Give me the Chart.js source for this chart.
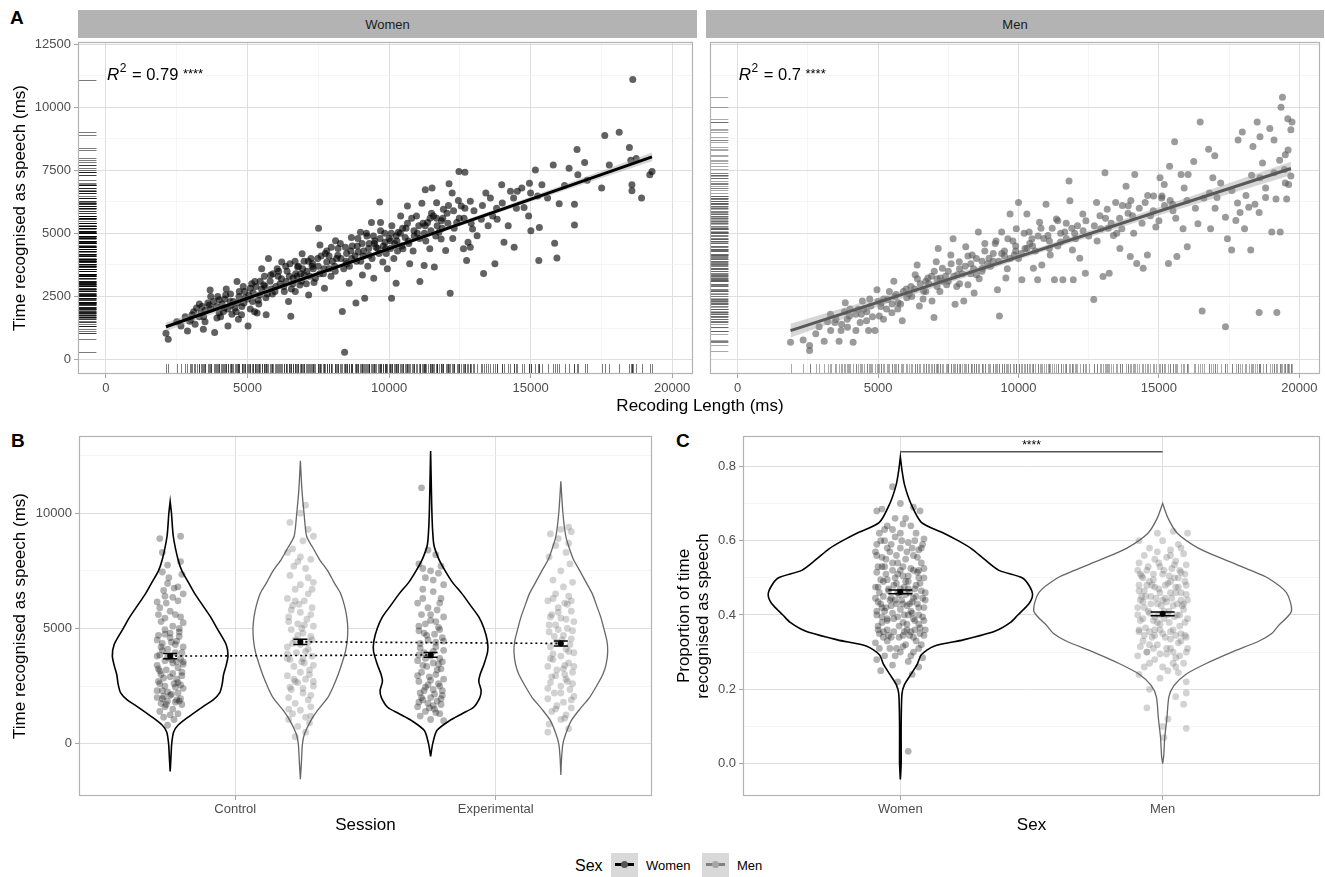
<!DOCTYPE html>
<html><head><meta charset="utf-8">
<script src="https://cdn.jsdelivr.net/npm/chart.js@4.4.1/dist/chart.umd.min.js"></script>
<style>
html,body{margin:0;padding:0;background:#fff;}
body{width:1325px;height:877px;position:relative;overflow:hidden;font-family:'Liberation Sans',Arial,sans-serif;}
.wrap{position:absolute;}
.strip{position:absolute;background:#b3b3b3;color:#1a1a1a;font-size:13px;display:flex;align-items:center;justify-content:center;}
.plabel{position:absolute;font-weight:bold;font-size:19px;color:#000;line-height:20px;}
.txt{position:absolute;color:#000;white-space:nowrap;}
.key{position:absolute;width:27px;height:24px;background:#d9d9d9;}
.kline{position:absolute;left:4px;width:19px;top:10px;height:3px;}
.kdot{position:absolute;left:10px;top:8px;width:7px;height:7px;border-radius:50%;}
</style></head><body>

<div class="plabel" style="left:10px;top:8px;">A</div>
<div class="plabel" style="left:11px;top:431px;">B</div>
<div class="plabel" style="left:676px;top:431px;">C</div>

<div class="strip" id="stripW" style="left:78px;top:10px;width:619px;height:28px;"></div>
<div class="strip" id="stripM" style="left:706px;top:10px;width:618px;height:28px;"></div>

<div class="wrap" style="left:0;top:38px;"><canvas id="cW" width="697" height="366"></canvas></div>
<div class="wrap" style="left:706px;top:38px;"><canvas id="cM" width="618" height="366"></canvas></div>
<div class="txt" id="xTitleA" style="left:500px;width:400px;text-align:center;top:396px;font-size:17px;line-height:20px;"></div>

<div class="wrap" style="left:0;top:432px;"><canvas id="cB" width="656" height="408"></canvas></div>
<div class="wrap" style="left:670px;top:432px;"><canvas id="cC" width="654" height="408"></canvas></div>

<div id="legend"></div>

<script>
// ---------------- DATA ----------------
const facetLabels = ['Women', 'Men'];
const r2Labels = ['0.79', '0.7'];
const r2Stars = '****';
const r2Pos = [0, 11300];

// Panel A: [recording length (ms), time recognised as speech (ms)]
const womenPoints = [
[2120,1040],[2200,810],[2650,1330],[2880,1130],[2960,1520],[3040,1780],[3200,2040],[3360,1850],[3440,1200],[3600,2240],[3680,2760],[3840,1070],[3920,1650],[4000,2370],[4150,1910],[4230,2560],[4310,1330],[4390,2300],[4550,2040],[4630,3090],[4710,2700],[4790,1780],[4870,2240],[5020,1330],[5100,2830],[5180,2300],[5260,3090],[5340,1850],[5420,2560],[5500,3600],[5580,2960],[5660,1780],[5740,4000],[5820,3350],[5970,2700],[6050,3600],[6210,3870],[6370,3090],[6450,2300],[6530,1720],[6610,3220],[6690,2700],[6770,3670],[6850,2960],[6930,4190],[7000,3350],[7160,2560],[7240,4000],[7320,3600],[7400,3220],[7510,5200],[7560,4540],[7720,2830],[7800,3870],[7880,3600],[7960,4450],[8110,4710],[8190,4130],[8350,1910],[8430,290],[8460,4450],[8510,3800],[8590,3020],[8670,4840],[8830,2240],[8910,4260],[8990,5040],[9060,3350],[9140,2430],[9220,4900],[9300,4130],[9380,5430],[9460,3220],[9540,4450],[9670,6240],[9700,5430],[9780,3870],[9860,4650],[9940,3600],[10050,4710],[10090,2430],[10170,4000],[10250,3020],[10330,5040],[10410,5690],[10490,4390],[10570,4840],[10650,6080],[10730,3800],[10890,4900],[10970,5690],[11090,3090],[11160,6190],[11240,3730],[11280,6730],[11360,5430],[11440,4390],[11520,6800],[11570,5690],[11600,3670],[11680,6210],[11760,5040],[11840,4780],[11920,5960],[12000,4320],[12120,6970],[12160,2630],[12230,6600],[12390,5430],[12470,7450],[12550,6080],[12630,4390],[12680,7420],[12740,3930],[12790,4650],[12870,6270],[12870,4450],[12950,5170],[13110,4910],[13260,5560],[13340,3410],[13420,6600],[13580,6400],[13660,5690],[13740,3800],[13820,5560],[13980,6930],[14060,4650],[14210,5300],[14290,6670],[14420,4450],[14530,6670],[14690,6800],[14770,6020],[14930,5690],[14960,6990],[15010,5100],[15170,7510],[15250,6480],[15290,3930],[15310,5230],[15400,6930],[15800,7710],[15850,4610],[15930,4020],[16010,6170],[16360,7580],[16550,6150],[16550,5330],[16640,8320],[16670,7320],[16910,7810],[17510,6800],[17620,8880],[17780,7710],[18130,9010],[18490,8400],[18540,7900],[18580,6930],[18580,6690],[18610,11090],[18730,7970],[18920,6400],[19210,7320],[19290,7450],
[3000,1600],[3100,1900],[3300,1700],[3400,2100],[3500,1950],[3700,2000],[3800,2300],[3900,2100],[4000,1850],[4100,2200],[4200,2400],[4300,2000],[4400,2600],[4500,2300],[4600,1900],[4700,2500],[4800,2100],[4900,2700],[5000,2400],[5100,2000],[5200,2650],[5300,2900],[5400,2200],[5500,2800],[5600,3300],[5700,2600],[5800,3100],[5900,3400],[6000,2900],[6100,3500],[6200,3200],[6300,2700],[6400,3500],[6500,3800],[6600,3000],[6700,3400],[6800,3700],[6900,3100],[7000,3900],[7100,3500],[7200,3300],[7300,3800],[7500,3700],[7600,4100],[7700,3600],[7800,4300],[8000,3900],[8100,3500],[8200,4400],[8300,4000],[8500,4200],[8600,3700],[8700,4500],[8800,4100],[8900,4800],[9000,3900],[9100,4300],[9200,5000],[9300,4600],[9400,4000],[9500,4700],[9600,4400],[9700,5100],[9800,4500],[9900,4200],[10000,4800],[10100,5300],[10200,4600],[10300,4300],[10400,5000],[10600,5200],[10700,4600],[10800,5600],[11000,5000],[11200,5400],[11300,4700],[11500,5800],[11700,5300],[11900,5600],[12100,6100],[12300,5200],
[2500,1500],[2800,1700],[3300,2200],[3500,1500],[3700,2500],[4050,1700],[4250,2800],[4450,1800],[4650,2250],[4850,2900],[5050,2550],[5250,1900],[5450,3100],[5650,2450],[5850,2800],[6150,3000],[6350,3700],[6550,2800],[6750,3300],[6950,3600],[7150,3900],[7350,3050],[7550,3400],[7750,4200],[7950,3300],[8150,4000],[8400,3600],[8650,4300],[8850,3900],[9050,4600],[9250,3700],[9450,4900],[9650,4200],[9850,5000],[10050,4400],[10250,4900],[10450,4500],[10650,5400],[10850,4300],[11050,5300],[11250,5000],[11450,5600],[11650,4900],[11850,5500],[12050,5800],[12250,4800],[12450,6300],[12650,5600],[13000,5900],[13500,5300],[14000,6200],[14500,6000],[15000,6600],[15600,6400],[16200,6900],[17000,7100],
[3150,1400],[3450,1700],[3650,2150],[3950,2500],[4180,2050],[4420,2150],[4680,1600],[4920,2450],[5150,3000],[5380,2350],[5620,2900],[5880,2600],[6080,3300],[6280,2900],[6480,3300],[6680,3900],[6880,3400],[7080,3000],[7280,3700],[7480,4000],[7680,3400],[7880,4100],[8080,3700],[8280,4600],[8480,3900],[8680,4000],[8880,4500],[9080,4100],[9280,4400],[9480,4600],[9680,4800],[9880,4400],[10080,5000],[10280,4700],[10480,5200],[10680,4700],[10880,5100],[11080,4800],[11280,5300],[11480,5100],[11680,5600],[11880,5200],[12080,5400],[12280,5900],[12480,5600],[12680,6000],[12900,5400],[13300,6100],[13800,6000],[14400,6400]
];
const menPoints = [
[1880,690],[2330,780],[2560,560],[2560,360],[2780,1020],[3080,730],[3310,1150],[3460,1470],[3610,730],[3680,1150],[3830,2250],[3910,1280],[3980,1730],[4110,690],[4210,1150],[4290,1990],[4360,1470],[4440,2320],[4590,1540],[4660,1150],[4740,2120],[4890,1150],[4960,2770],[5040,1730],[5110,2250],[5190,1600],[5340,2380],[5490,1860],[5560,3100],[5640,2580],[5710,2250],[5860,1540],[6020,2450],[6170,2900],[6320,3360],[6390,3750],[6470,2120],[6620,2710],[6770,3230],[6920,2320],[6990,1670],[7070,3880],[7140,4400],[7220,3230],[7290,3620],[7440,2970],[7590,4140],[7670,4790],[7740,2190],[7820,3360],[7890,3880],[8050,2320],[8120,4470],[8200,2970],[8350,4140],[8420,2640],[8500,3360],[8570,5050],[8720,3620],[8800,4600],[8950,4010],[9170,4600],[9250,2770],[9320,1730],[9400,5050],[9550,3230],[9620,4790],[9700,5770],[9850,4140],[9920,5180],[10000,6220],[10120,3160],[10230,4400],[10300,5770],[10380,5050],[10480,4790],[10530,3620],[10680,3160],[10750,5440],[10830,3750],[10980,6150],[11050,4920],[11130,4140],[11280,3160],[11350,5570],[11500,4660],[11580,3160],[11650,5050],[11800,7070],[11830,6290],[11920,4340],[11950,3160],[12030,4790],[12180,4010],[12290,5770],[12380,3420],[12680,2380],[12780,6220],[12930,5180],[13010,3290],[13080,7400],[13160,5960],[13230,3420],[13380,4920],[13460,6220],[13610,4400],[13680,5180],[13830,6870],[13910,6090],[13980,4080],[14060,5700],[14140,7330],[14210,3810],[14440,3620],[14510,6220],[14590,4140],[14810,6480],[14890,5250],[15040,7200],[15110,6480],[15190,6940],[15340,3810],[15380,7660],[15490,6150],[15560,8630],[15640,4080],[15790,7330],[15860,5180],[16010,4470],[16040,7330],[16240,7850],[16390,5380],[16470,9410],[16540,1930],[16770,8330],[16840,5180],[16920,7200],[16990,8070],[17070,6420],[17370,5640],[17370,1300],[17440,4790],[17590,4340],[17740,5510],[17820,8700],[17890,5830],[17970,9020],[18050,5180],[18200,6030],[18270,4340],[18350,8440],[18420,6150],[18500,9410],[18570,5830],[18570,1870],[18600,8830],[18690,7790],[18800,6420],[18950,9150],[19020,5050],[19100,8700],[19170,6360],[19200,1870],[19320,5050],[19350,10000],[19400,10390],[19470,7530],[19500,8110],[19550,6360],[19590,9540],[19620,6940],[19700,9100],[19700,7270],[19740,9410],
[3500,1600],[3800,1900],[4200,1800],[4500,2000],[4800,1700],[5000,2300],[5300,2000],[5600,2500],[5800,2200],[6000,2800],[6200,2500],[6500,3000],[6700,2700],[6900,3300],[7100,2900],[7300,3100],[7500,3500],[7700,3300],[7900,3000],[8100,3700],[8300,3400],[8500,4000],[8700,3500],[8900,3800],[9100,4200],[9300,3900],[9500,4300],[9700,4000],[9900,4500],[10100,4200],[10400,4600],[10600,4300],[10900,4800],[11200,5200],[11400,4500],[11700,5400],[12000,5000],[12400,5500],[12800,4700],[13200,5200],[13600,5600],[14000,6300],[14400,5400],[14800,5900],[15200,6100],[15600,5600],
[2900,1300],[3200,1500],[3700,1400],[4000,2000],[4400,1800],[4700,2400],[5100,2100],[5400,2700],[5700,2000],[6100,2600],[6400,3200],[6600,2400],[6800,3000],[7000,3500],[7200,2700],[7400,3300],[7600,3800],[7800,2900],[8000,3400],[8200,4100],[8400,3600],[8600,3200],[8800,4300],[9000,3700],[9200,4700],[9400,4200],[9600,3600],[9800,4700],[10000,4000],[10200,5000],[10500,4500],[10800,5200],[11100,4400],[11400,5500],[11700,4800],[12100,5300],[12500,4900],[12900,5700],[13300,5400],[13700,6100],[14100,5000],[14600,6500],[15000,5500],[15400,6300],[15900,6800],[16300,6000],[16800,6600],[17200,7000],[17800,6200],[18300,7300],[18800,6800],[19300,7900],[19600,8300],
[3300,1800],[3900,1600],[4600,1900],[5200,2400],[5500,2200],[5900,2700],[6300,2800],[6700,3100],[7100,3200],[7500,3100],[7900,3600],[8300,3800],[8700,3900],[9100,3900],[9500,4100],[9900,4300],[10300,4400],[10700,4900],[11100,4700],[11500,5000],[11900,5200],[12300,5100],[12700,5300],[13100,5600],[13500,5000],[13900,5800],[14300,6000],[14700,5700],[15100,6400],[15500,5900],[16000,6300],[16600,6400],[17000,6000],[17600,6700],[18100,6500],[18600,7200],[19100,7400],[19500,7000]
];
// regression fit lines and confidence bands
const womenFitX = [2120, 19290];
const womenFitY = [1300, 8030];
const menFitX = [1880, 19700];
const menFitY = [1150, 7570];
const womenBandX = [2120, 6000, 10700, 15000, 19290];
const womenBandLo = [1130, 2720, 4590, 6250, 7860];
const womenBandHi = [1470, 2920, 4730, 6450, 8200];
const menBandX = [1880, 6000, 10800, 15500, 19700];
const menBandLo = [880, 2480, 4250, 5890, 7300];
const menBandHi = [1420, 2790, 4470, 6220, 7840];

// Panel B
const sessions = ['Control', 'Experimental'];
const vbWomenControlY = [-1200,-600,0,500,800,1200,1600,1900,2200,2600,3000,3400,3800,4300,5000,5500,6000,6500,7000,7500,8000,9000,10000,10500];
const vbWomenControlW = [0,0.003,0.006,0.013,0.03,0.075,0.125,0.165,0.19,0.2,0.205,0.215,0.222,0.215,0.18,0.155,0.125,0.095,0.07,0.045,0.03,0.012,0.005,0];
const vbMenControlY = [-1540,-800,0,430,1000,1430,2000,2500,3000,3500,4000,4500,5000,5500,6000,6550,7000,7500,8000,8500,9000,10000,11000,12270];
const vbMenControlW = [0,0.004,0.008,0.016,0.04,0.065,0.105,0.127,0.145,0.16,0.173,0.18,0.182,0.178,0.169,0.153,0.129,0.105,0.073,0.048,0.024,0.014,0.006,0];
const vbWomenExpY = [-550,0,570,1000,1300,1580,2000,2300,2700,3000,3450,4000,4450,5000,5500,6000,6500,7000,7500,8000,8600,9200,10000,11000,12700];
const vbWomenExpW = [0,0.008,0.024,0.073,0.121,0.165,0.189,0.194,0.185,0.19,0.205,0.219,0.218,0.205,0.185,0.153,0.121,0.084,0.056,0.032,0.013,0.008,0.005,0.003,0];
const vbMenExpY = [-1360,-600,0,430,1000,1500,2000,2500,3000,3450,4000,4450,5000,5500,6000,6500,7000,7500,8000,8500,9000,10000,11380];
const vbMenExpW = [0,0.003,0.008,0.019,0.04,0.073,0.11,0.137,0.161,0.174,0.18,0.177,0.165,0.153,0.137,0.121,0.097,0.073,0.048,0.032,0.019,0.008,0];
// jittered points [offset from violin centre, value]
const bWomenControl = [[-0.04,8900],[0.04,9000],[-0.03,8300],[-0.01,7750],[0.04,7900],[-0.03,7450],[0.045,7350],[-0.01,6950],[0.015,6750],[-0.025,6650],[0.05,6500],[-0.05,6150],[-0.015,6100],[0.03,6200],[0.0,5750],[-0.04,5900],[0.02,5600],[-0.035,5300],[0.05,5250],[0.01,5100],[-0.02,4950],[0.035,4850],[-0.045,4700],[0.0,4600],[0.025,4450],[-0.03,4350],[0.05,4200],[-0.01,4100],[0.02,3950],[-0.04,3850],[0.04,3700],[-0.02,3600],[0.01,3500],[-0.05,3400],[0.03,3300],[-0.015,3200],[0.045,3100],[-0.035,3000],[0.0,2900],[0.025,2800],[-0.045,2700],[0.015,2600],[-0.02,2500],[0.05,2400],[-0.03,2300],[0.03,2200],[0.0,2100],[-0.05,2000],[0.04,1950],[-0.01,1850],[0.02,1800],[-0.035,1750],[0.045,1700],[-0.02,1600],[0.01,1500],[-0.04,1400],[0.03,1300],[0.0,1250],[-0.025,1150],[0.015,1050],[-0.01,800],[0.035,4650],[-0.05,4500],[0.02,4300],[-0.03,4050],[0.05,3550],[-0.04,3150],[0.03,2650],[-0.01,2250],[0.04,5500],[-0.02,5450],[0.01,6350],[-0.05,3800],[0.005,3650],[0.045,2950],[-0.025,2050],[0.025,1900],
[-0.045,5600],[0.035,5000],[-0.02,4750],[0.005,4400],[-0.035,4200],[0.045,3950],[-0.01,3750],[0.025,3550],[-0.045,3250],[0.01,3050],[-0.025,2850],[0.04,2550],[-0.05,2300],[0.005,2150],[-0.03,1950],[0.035,1850],[-0.015,1700],[0.02,2450],[-0.04,2600],[0.05,3450],[0.0,4800],[-0.02,6400],[0.03,6800],[-0.005,7200]];
const bMenControl = [[-0.04,9600],[0.0,10000],[0.02,10350],[0.03,9300],[0.05,9000],[-0.03,8450],[0.01,8800],[-0.05,8300],[0.04,8000],[-0.01,7900],[0.02,7600],[-0.04,7300],[0.05,7000],[0.0,6900],[-0.02,6700],[0.03,6500],[-0.05,6300],[0.015,6200],[-0.03,6000],[0.045,5900],[0.0,5700],[-0.045,5500],[0.025,5400],[-0.01,5200],[0.05,5100],[-0.035,4950],[0.01,4800],[0.04,4650],[-0.02,4500],[0.0,4300],[-0.05,4200],[0.03,4100],[-0.015,3950],[0.045,3800],[-0.04,3650],[0.015,3500],[-0.025,3350],[0.035,3200],[0.0,3100],[-0.05,2950],[0.02,2800],[-0.01,2650],[0.05,2500],[-0.035,2350],[0.01,2200],[-0.045,2000],[0.03,1900],[-0.02,1750],[0.04,1600],[0.0,1450],[-0.03,1300],[0.02,1150],[-0.045,1050],[0.035,900],[-0.01,750],[0.02,500],[-0.02,300],[0.045,6700],[-0.035,5800],[0.005,5000],[0.03,4400],[-0.05,3900],[0.05,3400],[-0.02,2700],[0.04,2100],[-0.005,6050],[0.01,3700],
[-0.02,6200],[0.04,5600],[-0.045,5300],[0.015,5150],[-0.01,4700],[0.045,4500],[-0.03,4350],[0.02,4000],[-0.05,3700],[0.005,3550],[0.035,3000],[-0.025,2800],[0.05,2700],[-0.04,2450],[0.01,2400],[0.03,7200],[-0.025,7700],[0.0,8100],[-0.045,1500],[0.04,1200]];
const bWomenExp = [[-0.035,11100],[-0.01,8400],[0.02,8200],[-0.045,7800],[0.04,7700],[0.0,7500],[0.03,7400],[-0.02,7200],[0.05,6900],[-0.03,6700],[0.01,6600],[0.04,6300],[-0.05,6100],[-0.01,5900],[0.025,5800],[-0.035,5600],[0.05,5500],[0.0,5350],[-0.02,5200],[0.03,5050],[-0.045,4900],[0.015,4750],[0.045,4600],[-0.01,4500],[-0.04,4350],[0.02,4200],[0.05,4050],[-0.025,3950],[0.0,3800],[0.035,3700],[-0.05,3600],[0.01,3500],[-0.015,3350],[0.04,3250],[-0.035,3100],[0.02,3000],[-0.005,2900],[0.05,2800],[-0.045,2700],[0.03,2600],[-0.02,2450],[0.01,2350],[-0.04,2200],[0.045,2100],[0.0,2000],[-0.03,1900],[0.025,1850],[-0.01,1750],[0.04,1700],[-0.05,1600],[0.015,1500],[-0.02,1400],[0.035,1300],[-0.04,1200],[0.0,1050],[0.05,1000],[-0.025,4800],[0.02,4400],[-0.045,3850],[0.03,3450],[-0.01,2550],[0.045,2300],[-0.035,2000],[0.01,1650],[0.0,5600],[0.035,6100],
[-0.03,6300],[0.02,5300],[-0.045,5100],[0.035,4950],[-0.015,4700],[0.05,4450],[-0.04,4150],[0.01,4000],[-0.02,3700],[0.045,3550],[-0.03,3400],[0.025,3200],[-0.05,2950],[0.0,2750],[0.035,2500],[-0.025,2300],[0.015,2150],[-0.045,1800],[0.04,1950],[-0.005,1550],[0.02,1350],[-0.03,7600],[0.01,7100]];
const bMenExp = [[-0.04,9100],[0.0,9300],[0.03,9400],[0.04,9200],[-0.02,8600],[0.02,8300],[-0.045,8100],[0.035,7800],[0.0,7500],[-0.03,7100],[0.045,7000],[0.01,6800],[-0.02,6500],[0.03,6400],[-0.05,6200],[0.015,6100],[-0.01,5900],[0.04,5750],[-0.035,5600],[0.0,5450],[0.05,5300],[-0.02,5150],[0.025,5000],[-0.045,4850],[0.01,4700],[0.04,4550],[-0.015,4400],[-0.04,4200],[0.02,4100],[0.05,3950],[0.0,3800],[-0.03,3650],[0.03,3500],[-0.05,3350],[0.01,3250],[0.045,3100],[-0.02,2950],[0.02,2800],[-0.04,2650],[0.0,2500],[0.035,2350],[-0.025,2200],[0.05,2050],[-0.05,1950],[0.01,1800],[-0.015,1650],[0.04,1550],[-0.035,1400],[0.02,1250],[0.0,1050],[-0.045,850],[0.03,650],[-0.05,500],[0.025,6050],[-0.01,4950],[0.035,4300],[-0.03,3900],[0.015,3000],[-0.04,5500],[0.045,2600],
[-0.03,6300],[0.04,6200],[-0.01,5700],[0.02,5400],[-0.045,5150],[0.045,4900],[-0.025,4650],[0.005,4500],[0.03,4000],[-0.04,3700],[0.015,3400],[-0.015,3200],[0.05,3350],[-0.035,2900],[0.025,2700],[-0.05,2400],[0.0,2200],[0.04,1900],[-0.02,1500],[0.015,1100],[-0.01,8900],[0.03,8700]];
const bMeanWomen = [3800, 3850];
const bMeanMen = [4420, 4350];
const bSEWomen = [110, 105];
const bSEMen = [115, 110];

// Panel C
const cVWomenY = [-0.043,0,0.1,0.187,0.213,0.24,0.267,0.293,0.316,0.333,0.356,0.38,0.40,0.43,0.455,0.48,0.50,0.52,0.55,0.578,0.60,0.622,0.649,0.70,0.75,0.79,0.825];
const cVWomenW = [0,0.003,0.003,0.006,0.016,0.04,0.064,0.08,0.128,0.24,0.36,0.42,0.448,0.49,0.504,0.49,0.464,0.376,0.32,0.272,0.22,0.16,0.08,0.04,0.016,0.006,0];
const cVMenY = [0,0.02,0.07,0.12,0.18,0.21,0.24,0.27,0.30,0.33,0.35,0.37,0.41,0.46,0.50,0.52,0.55,0.58,0.62,0.66,0.70];
const cVMenW = [0,0.004,0.008,0.016,0.024,0.043,0.088,0.168,0.264,0.368,0.416,0.44,0.491,0.472,0.4,0.336,0.232,0.136,0.056,0.021,0];
const cWomenPts = [[-0.09,0.68],[-0.07,0.685],[-0.03,0.745],[0.0,0.70],[0.05,0.69],[0.075,0.68],[0.02,0.66],[-0.05,0.64],[0.01,0.645],[-0.08,0.62],[0.06,0.62],[-0.02,0.61],[0.09,0.605],[-0.06,0.60],[0.03,0.595],[-0.09,0.59],[0.0,0.58],[0.07,0.575],[-0.04,0.57],[0.05,0.56],[-0.07,0.555],[0.02,0.55],[-0.01,0.54],[0.08,0.54],[-0.085,0.53],[0.04,0.525],[-0.03,0.52],[0.065,0.515],[-0.055,0.51],[0.01,0.505],[0.09,0.50],[-0.075,0.495],[0.03,0.49],[-0.015,0.485],[0.06,0.48],[-0.095,0.475],[0.0,0.47],[-0.045,0.465],[0.08,0.465],[0.02,0.455],[-0.065,0.45],[0.05,0.445],[-0.02,0.44],[0.095,0.44],[-0.085,0.435],[0.035,0.43],[-0.035,0.425],[0.07,0.42],[0.0,0.415],[-0.06,0.41],[0.045,0.405],[-0.09,0.40],[0.015,0.40],[0.085,0.395],[-0.025,0.39],[0.055,0.385],[-0.07,0.38],[0.025,0.375],[-0.005,0.37],[0.075,0.365],[-0.05,0.36],[0.04,0.355],[-0.08,0.35],[0.01,0.345],[0.09,0.345],[-0.035,0.34],[0.06,0.33],[-0.095,0.325],[0.02,0.32],[-0.015,0.31],[0.05,0.30],[-0.06,0.29],[0.085,0.285],[-0.09,0.28],[0.03,0.275],[-0.03,0.265],[0.07,0.26],[-0.075,0.25],[0.045,0.24],[-0.01,0.22],[0.03,0.033],[-0.05,0.58],[0.07,0.52],[-0.02,0.50],[0.03,0.47],[-0.08,0.46],[0.06,0.45],[-0.04,0.44],[0.01,0.43],[0.09,0.42],[-0.07,0.42],[0.04,0.41],[-0.01,0.46],[0.02,0.49],[-0.06,0.53],[0.08,0.58],[-0.09,0.56],[0.055,0.60],[-0.03,0.63],[0.0,0.52],[-0.05,0.39],[0.07,0.40],[0.025,0.36],[-0.085,0.37],[0.05,0.34],[-0.04,0.31],[0.08,0.32],[0.0,0.30],[-0.065,0.34],
[-0.095,0.57],[-0.075,0.60],[-0.055,0.55],[-0.035,0.59],[-0.015,0.56],[0.005,0.60],[0.025,0.57],[0.045,0.58],[0.065,0.555],[0.085,0.59],[-0.09,0.515],[-0.07,0.53],[-0.05,0.495],[-0.03,0.54],[-0.01,0.51],[0.01,0.53],[0.03,0.505],[0.05,0.52],[0.07,0.50],[0.09,0.525],[-0.085,0.475],[-0.065,0.49],[-0.045,0.47],[-0.025,0.48],[-0.005,0.455],[0.015,0.475],[0.035,0.46],[0.055,0.47],[0.075,0.485],[0.095,0.46],[-0.095,0.445],[-0.075,0.43],[-0.055,0.42],[-0.035,0.445],[-0.015,0.43],[0.005,0.44],[0.025,0.425],[0.045,0.435],[0.065,0.43],[0.085,0.445],[-0.09,0.41],[-0.07,0.395],[-0.05,0.385],[-0.03,0.405],[-0.01,0.395],[0.01,0.38],[0.03,0.40],[0.05,0.39],[0.07,0.375],[0.09,0.385],[-0.085,0.36],[-0.065,0.355],[-0.045,0.345],[-0.025,0.355],[-0.005,0.34],[0.015,0.355],[0.035,0.345],[0.055,0.36],[0.075,0.35],[0.095,0.36],[-0.08,0.31],[-0.05,0.33],[-0.02,0.29],[0.01,0.315],[0.04,0.29],[0.07,0.31],[-0.06,0.63],[0.0,0.62],[0.04,0.64],[-0.02,0.66]];
const cMenPts = [[-0.02,0.62],[0.04,0.625],[0.095,0.62],[-0.09,0.60],[0.0,0.60],[0.06,0.59],[-0.05,0.58],[0.03,0.575],[0.08,0.565],[-0.07,0.56],[0.015,0.555],[-0.03,0.55],[0.05,0.545],[-0.09,0.54],[0.09,0.535],[-0.01,0.53],[0.035,0.525],[-0.06,0.52],[0.07,0.515],[0.0,0.51],[-0.08,0.505],[0.045,0.50],[-0.035,0.495],[0.085,0.49],[0.02,0.485],[-0.06,0.48],[0.06,0.475],[-0.015,0.47],[-0.09,0.465],[0.03,0.46],[0.09,0.455],[-0.045,0.45],[0.01,0.445],[0.07,0.44],[-0.075,0.435],[-0.02,0.43],[0.04,0.425],[-0.095,0.42],[0.08,0.415],[0.005,0.41],[-0.05,0.405],[0.055,0.40],[-0.03,0.395],[0.095,0.39],[-0.085,0.385],[0.025,0.38],[-0.01,0.375],[0.065,0.37],[-0.065,0.365],[0.04,0.36],[-0.09,0.355],[0.0,0.35],[0.085,0.345],[-0.04,0.34],[0.03,0.335],[-0.075,0.33],[0.06,0.325],[-0.02,0.32],[0.095,0.31],[-0.06,0.30],[0.015,0.295],[-0.095,0.29],[0.05,0.285],[-0.03,0.28],[0.08,0.27],[-0.07,0.26],[0.02,0.25],[-0.09,0.24],[0.06,0.245],[-0.01,0.23],[0.09,0.22],[-0.05,0.20],[0.05,0.18],[0.09,0.19],[-0.06,0.15],[0.02,0.12],[0.08,0.16],[0.0,0.10],[0.005,0.07],[0.09,0.095],[-0.04,0.48],[0.05,0.46],[-0.07,0.42],[0.02,0.40],[-0.02,0.38],[0.07,0.35],[-0.05,0.32],[0.03,0.31],[-0.08,0.45],[0.06,0.50],[0.0,0.44],[-0.03,0.36],[0.04,0.27],[-0.085,0.51],[0.08,0.43],
[-0.095,0.52],[-0.075,0.50],[-0.055,0.53],[-0.035,0.51],[-0.015,0.54],[0.005,0.52],[0.025,0.505],[0.045,0.535],[0.065,0.52],[0.085,0.51],[-0.09,0.48],[-0.07,0.465],[-0.05,0.49],[-0.03,0.475],[-0.01,0.46],[0.01,0.48],[0.03,0.49],[0.05,0.475],[0.07,0.46],[0.09,0.48],[-0.085,0.44],[-0.065,0.45],[-0.045,0.43],[-0.025,0.445],[-0.005,0.425],[0.015,0.435],[0.035,0.445],[0.055,0.43],[0.075,0.425],[0.095,0.44],[-0.095,0.40],[-0.075,0.39],[-0.055,0.41],[-0.035,0.385],[-0.015,0.40],[0.005,0.39],[0.025,0.41],[0.045,0.395],[0.065,0.40],[0.085,0.38],[-0.09,0.36],[-0.07,0.345],[-0.05,0.355],[-0.03,0.345],[-0.01,0.36],[0.01,0.34],[0.03,0.355],[0.05,0.345],[0.07,0.33],[0.09,0.34],[-0.085,0.315],[-0.06,0.30],[-0.035,0.31],[-0.01,0.295],[0.015,0.31],[0.04,0.30],[0.065,0.29],[0.09,0.30],[-0.05,0.27],[0.0,0.26],[0.05,0.26],[-0.02,0.57],[0.03,0.56],[0.07,0.58]];
const cMeans = [0.462, 0.403];
const cSE = [0.005, 0.005];
const cSigY = 0.839;
const cSigLabel = '****';

// tick values
const aXMajor = [0,5000,10000,15000,20000], aXMinor = [2500,7500,12500,17500];
const aYMajor = [0,2500,5000,7500,10000,12500], aYMinor = [1250,3750,6250,8750,11250];
const bYMajor = [0,5000,10000], bYMinor = [2500,7500,12500];
const cYMajor = [0,0.2,0.4,0.6,0.8], cYMinor = [0.1,0.3,0.5,0.7];

// ---------------- STYLE / HELPERS ----------------
const FONT = "'Liberation Sans', Arial, sans-serif";
const DODGE = 0.25;
const WOMEN_COL = '#000000', MEN_COL = '#595959';
const isIn = (v, arr) => arr.some(a => Math.abs(a - v) < 1e-9);

function axisCfg(o) {
  const all = o.major.concat(o.minor || []).sort((a, b) => a - b);
  const maj = c => c.tick && isIn(c.tick.value, o.major);
  return {
    type: 'linear', position: o.position, min: o.min, max: o.max,
    afterBuildTicks: s => { s.ticks = all.map(v => ({value: v})); },
    afterFit: s => {
      if (o.size !== undefined) { if (o.position === 'left') s.width = o.size; else s.height = o.size; }
      s.paddingTop = 0; s.paddingBottom = 0; s.paddingLeft = 0; s.paddingRight = 0;
    },
    border: {display: false},
    grid: {
      color: c => maj(c) ? '#dedede' : '#efefef',
      lineWidth: c => maj(c) ? 1 : 0.6,
      drawTicks: o.labels !== false,
      tickLength: 4,
      tickColor: c => maj(c) ? '#a6a6a6' : 'rgba(0,0,0,0)',
      tickWidth: 1
    },
    ticks: {
      display: o.labels !== false,
      autoSkip: false, maxRotation: 0, minRotation: 0,
      padding: o.tickPad !== undefined ? o.tickPad : 3,
      color: '#4d4d4d', font: {family: FONT, size: 13},
      callback: v => isIn(v, o.major) ? o.fmt(v) : ''
    },
    title: o.title ? {display: true, text: o.title, color: '#000',
      font: {family: FONT, size: 17, lineHeight: o.titleLH || 1.2}, padding: o.titlePad} : {display: false}
  };
}

const borderPlugin = {id: 'pborder', afterDraw(chart) {
  const a = chart.chartArea, c = chart.ctx;
  c.save(); c.strokeStyle = '#b3b3b3'; c.lineWidth = 1.2;
  c.strokeRect(a.left + 0.5, a.top + 0.5, a.right - a.left - 1, a.bottom - a.top - 1);
  c.restore();
}};

function rugPlugin(pts, color) {
  return {id: 'rug', afterDatasetsDraw(chart) {
    const xs = chart.scales.x, ys = chart.scales.y, a = chart.chartArea, c = chart.ctx;
    const lx = (a.right - a.left) * 0.03, ly = (a.bottom - a.top) * 0.03;
    c.save(); c.strokeStyle = color; c.lineWidth = 0.8;
    pts.forEach(p => {
      const px = Math.round(xs.getPixelForValue(p[0])) + 0.5;
      c.beginPath(); c.moveTo(px, a.bottom); c.lineTo(px, a.bottom - ly); c.stroke();
      const py = Math.round(ys.getPixelForValue(p[1])) + 0.5;
      c.beginPath(); c.moveTo(a.left, py); c.lineTo(a.left + lx, py); c.stroke();
    });
    c.restore();
  }};
}

function r2Plugin(val) {
  return {id: 'r2', afterDatasetsDraw(chart) {
    const c = chart.ctx;
    const x = chart.scales.x.getPixelForValue(r2Pos[0]), y = chart.scales.y.getPixelForValue(r2Pos[1]);
    c.save(); c.fillStyle = '#000'; c.textBaseline = 'alphabetic';
    const base = y + 6;
    c.font = 'italic 17px ' + FONT; c.fillText('R', x + 1, base);
    let w = c.measureText('R').width + 1.5;
    c.font = '12px ' + FONT; c.fillText('2', x + w, base - 8);
    w += c.measureText('2').width + 1;
    c.font = '16.5px ' + FONT; const t = ' = ' + val + ' ';
    c.fillText(t, x + w, base); w += c.measureText(t).width;
    c.font = '13px ' + FONT; c.fillText(r2Stars, x + w, base - 2);
    c.restore();
  }};
}

function errPlugin(groups, cap) {
  return {id: 'err', afterDatasetsDraw(chart) {
    const xs = chart.scales.x, ys = chart.scales.y, c = chart.ctx;
    c.save(); c.strokeStyle = '#000'; c.fillStyle = '#000'; c.lineWidth = 1.5;
    groups.forEach(g => {
      const px = xs.getPixelForValue(g.x), p1 = ys.getPixelForValue(g.m - g.e),
            p2 = ys.getPixelForValue(g.m + g.e), pm = ys.getPixelForValue(g.m);
      c.beginPath();
      c.moveTo(px, p1); c.lineTo(px, p2);
      c.moveTo(px - cap, p1); c.lineTo(px + cap, p1);
      c.moveTo(px - cap, p2); c.lineTo(px + cap, p2);
      c.stroke();
      c.beginPath(); c.arc(px, pm, 3, 0, Math.PI * 2); c.fill();
    });
    c.restore();
  }};
}

const sigPlugin = {id: 'sig', afterDatasetsDraw(chart) {
  const c = chart.ctx, xs = chart.scales.x, ys = chart.scales.y;
  c.save(); c.fillStyle = '#000'; c.font = '12px ' + FONT; c.textAlign = 'center'; c.textBaseline = 'alphabetic';
  c.fillText(cSigLabel, (xs.getPixelForValue(1) + xs.getPixelForValue(2)) / 2, ys.getPixelForValue(cSigY) - 3);
  c.restore();
}};

function violin(center, ys, ws, color, width) {
  const right = ys.map((y, i) => ({x: center + ws[i], y}));
  const left = ys.map((y, i) => ({x: center - ws[i], y})).reverse();
  return {type: 'line', data: right.concat(left), borderColor: color, borderWidth: width,
    backgroundColor: '#ffffff', fill: 'shape', tension: 0.25, pointRadius: 0, order: 5};
}
function jitterSet(center, pts, color, r) {
  return {type: 'scatter', data: pts.map(p => ({x: center + p[0], y: p[1]})),
    pointRadius: r, pointBackgroundColor: color, pointBorderWidth: 0, order: 3};
}
function baseOpts(scales) {
  return {responsive: false, animation: false, events: [], layout: {padding: 0},
    plugins: {legend: {display: false}, tooltip: {enabled: false}}, scales};
}

// ---------------- PANEL A ----------------
document.getElementById('stripW').textContent = facetLabels[0];
document.getElementById('stripM').textContent = facetLabels[1];
document.getElementById('xTitleA').textContent = 'Recoding Length (ms)';

function facet(id, pts, fitX, fitY, bandX, bandLo, bandHi, ptCol, lineCol, rugCol, r2, showY) {
  const xAx = axisCfg({position: 'bottom', min: -987, max: 20737, major: aXMajor, minor: aXMinor,
    fmt: v => String(v), size: 30, tickPad: 3});
  const yAx = axisCfg({position: 'left', min: -570, max: 12580, major: aYMajor, minor: aYMinor,
    fmt: v => String(v), size: showY ? 78 : 0, labels: showY, tickPad: 3,
    title: showY ? 'Time recognised as speech (ms)' : null, titlePad: {top: 10, bottom: 0}});
  const datasets = [
    {type: 'line', data: fitX.map((x, i) => ({x, y: fitY[i]})), borderColor: lineCol, borderWidth: 3,
      pointRadius: 0, fill: false, order: 1},
    {type: 'line', data: bandX.map((x, i) => ({x, y: bandLo[i]})), borderWidth: 0, borderColor: 'rgba(0,0,0,0)',
      pointRadius: 0, fill: false, order: 2},
    {type: 'line', data: bandX.map((x, i) => ({x, y: bandHi[i]})), borderWidth: 0, borderColor: 'rgba(0,0,0,0)',
      pointRadius: 0, fill: '-1', backgroundColor: 'rgba(153,153,153,0.4)', order: 2},
    {type: 'scatter', data: pts.map(p => ({x: p[0], y: p[1]})), pointRadius: 3.5,
      pointBackgroundColor: ptCol, pointBorderWidth: 0, order: 3}
  ];
  return new Chart(document.getElementById(id), {type: 'scatter', data: {datasets},
    options: baseOpts({x: xAx, y: yAx}),
    plugins: [rugPlugin(pts, rugCol), r2Plugin(r2), borderPlugin]});
}
facet('cW', womenPoints, womenFitX, womenFitY, womenBandX, womenBandLo, womenBandHi,
  'rgba(0,0,0,0.62)', WOMEN_COL, 'rgba(0,0,0,0.65)', r2Labels[0], true);
facet('cM', menPoints, menFitX, menFitY, menBandX, menBandLo, menBandHi,
  'rgba(89,89,89,0.6)', MEN_COL, 'rgba(89,89,89,0.65)', r2Labels[1], false);

// ---------------- PANEL B ----------------
(function () {
  const cW = [1 - DODGE, 2 - DODGE], cM = [1 + DODGE, 2 + DODGE];
  const datasets = [
    {type: 'line', data: cW.map((x, i) => ({x, y: bMeanWomen[i]})), borderColor: '#000', borderWidth: 1.6,
      borderDash: [2, 3], pointRadius: 0, fill: false, order: 1},
    {type: 'line', data: cM.map((x, i) => ({x, y: bMeanMen[i]})), borderColor: '#000', borderWidth: 1.6,
      borderDash: [2, 3], pointRadius: 0, fill: false, order: 1},
    jitterSet(cW[0], bWomenControl, 'rgba(0,0,0,0.3)', 3.4),
    jitterSet(cM[0], bMenControl, 'rgba(89,89,89,0.27)', 3.4),
    jitterSet(cW[1], bWomenExp, 'rgba(0,0,0,0.3)', 3.4),
    jitterSet(cM[1], bMenExp, 'rgba(89,89,89,0.27)', 3.4),
    violin(cW[0], vbWomenControlY, vbWomenControlW, WOMEN_COL, 1.6),
    violin(cM[0], vbMenControlY, vbMenControlW, '#666666', 1.3),
    violin(cW[1], vbWomenExpY, vbWomenExpW, WOMEN_COL, 1.6),
    violin(cM[1], vbMenExpY, vbMenExpW, '#666666', 1.3)
  ];
  const groups = [
    {x: cW[0], m: bMeanWomen[0], e: bSEWomen[0]}, {x: cW[1], m: bMeanWomen[1], e: bSEWomen[1]},
    {x: cM[0], m: bMeanMen[0], e: bSEMen[0]}, {x: cM[1], m: bMeanMen[1], e: bSEMen[1]}
  ];
  const xAx = axisCfg({position: 'bottom', min: 0.4, max: 2.6, major: [1, 2], minor: [],
    fmt: v => sessions[Math.round(v) - 1], size: 44, tickPad: 1.5,
    title: 'Session', titlePad: {top: 0, bottom: 4}});
  const yAx = axisCfg({position: 'left', min: -2270, max: 13350, major: bYMajor, minor: bYMinor,
    fmt: v => String(v), size: 79, tickPad: 3,
    title: 'Time recognised as speech (ms)', titlePad: {top: 10, bottom: 0}});
  new Chart(document.getElementById('cB'), {type: 'scatter', data: {datasets},
    options: baseOpts({x: xAx, y: yAx}), plugins: [errPlugin(groups, 7), borderPlugin]});
})();

// ---------------- PANEL C ----------------
(function () {
  const datasets = [
    {type: 'line', data: [{x: 1, y: cSigY}, {x: 2, y: cSigY}], borderColor: '#000', borderWidth: 1,
      pointRadius: 0, fill: false, order: 1},
    jitterSet(1, cWomenPts, 'rgba(0,0,0,0.3)', 3.4),
    jitterSet(2, cMenPts, 'rgba(89,89,89,0.27)', 3.4),
    violin(1, cVWomenY, cVWomenW, WOMEN_COL, 1.6),
    violin(2, cVMenY, cVMenW, '#666666', 1.3)
  ];
  const groups = [{x: 1, m: cMeans[0], e: cSE[0]}, {x: 2, m: cMeans[1], e: cSE[1]}];
  const xAx = axisCfg({position: 'bottom', min: 0.4, max: 2.6, major: [1, 2], minor: [],
    fmt: v => facetLabels[Math.round(v) - 1], size: 44, tickPad: 1.5,
    title: 'Sex', titlePad: {top: 0, bottom: 4}});
  const yAx = axisCfg({position: 'left', min: -0.0872, max: 0.8816, major: cYMajor, minor: cYMinor,
    fmt: v => v.toFixed(1), size: 73, tickPad: 3,
    title: ['Proportion of time', 'recognised as speech'], titleLH: 1.12, titlePad: {top: 5, bottom: 0}});
  new Chart(document.getElementById('cC'), {type: 'scatter', data: {datasets},
    options: baseOpts({x: xAx, y: yAx}), plugins: [errPlugin(groups, 12), sigPlugin, borderPlugin]});
})();

// ---------------- LEGEND ----------------
(function () {
  const lg = document.getElementById('legend');
  const add = (html) => { lg.insertAdjacentHTML('beforeend', html); };
  add('<div class="txt" style="left:575px;top:856px;font-size:16px;line-height:20px;">Sex</div>');
  const keyLeft = [611, 702], textLeft = [646, 737];
  const lineCols = ['#000000', '#808080'], dotCols = ['#555555', '#a6a6a6'];
  facetLabels.forEach((lab, i) => {
    add('<div class="key" style="left:' + keyLeft[i] + 'px;top:853px;"><div class="kline" style="background:' +
      lineCols[i] + '"></div><div class="kdot" style="background:' + dotCols[i] + '"></div></div>');
    add('<div class="txt" style="left:' + textLeft[i] + 'px;top:858px;font-size:13px;line-height:16px;">' + lab + '</div>');
  });
})();
</script>
</body></html>
